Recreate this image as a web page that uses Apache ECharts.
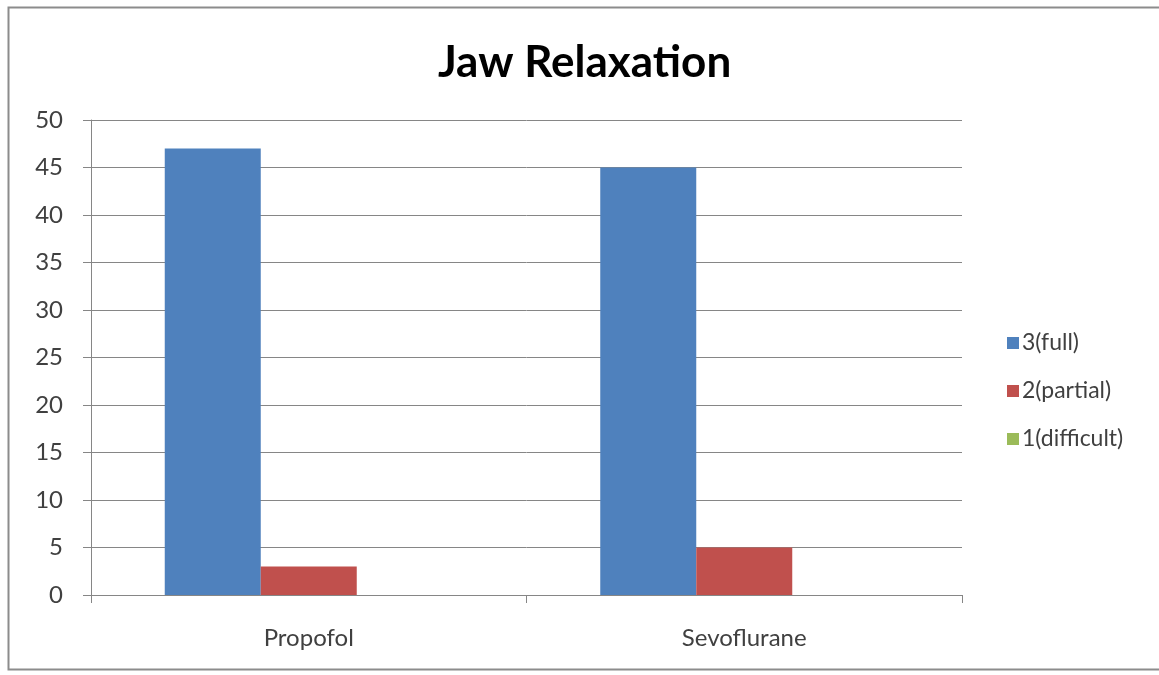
<!DOCTYPE html>
<html>
<head>
<meta charset="utf-8">
<title>Jaw Relaxation</title>
<script src="https://cdn.jsdelivr.net/npm/echarts@6/dist/echarts.min.js"></script>
<style>
  html, body { margin: 0; padding: 0; background: #ffffff; }
  #chart { width: 1159px; height: 675px; }
</style>
</head>
<body>
<div id="chart"></div>
<script>
// Jaw relaxation scores by anaesthetic agent
const categories = ['Propofol', 'Sevoflurane'];
const seriesNames = ['3(full)', '2(partial)', '1(difficult)'];
const fullValues = [47, 45];
const partialValues = [3, 5];
const difficultValues = [0, 0];
const yTicks = { min: 0, max: 50, interval: 5 };

const colors = ['#4F81BD', '#C0504D', '#9BBB59'];
const textFont = 'Lato, "Open Sans", sans-serif';

const chart = echarts.init(document.getElementById('chart'), null, { renderer: 'canvas' });

function barSeries(name, data, color) {
  return {
    name: name,
    type: 'bar',
    data: data,
    barWidth: 96,
    barGap: '0%',
    itemStyle: { color: color },
    emphasis: { disabled: true }
  };
}

chart.setOption({
  animation: false,
  backgroundColor: '#ffffff',
  graphic: [{
    type: 'rect',
    shape: { x: 8.5, y: 7.5, width: 1170, height: 662 },
    style: { fill: 'none', stroke: '#8c8c8c', lineWidth: 2 },
    silent: true,
    z: -1
  }],
  title: {
    text: 'Jaw Relaxation',
    left: 433,
    top: 36,
    textStyle: {
      fontFamily: textFont,
      fontWeight: 'bold',
      fontSize: 44,
      color: '#000000'
    }
  },
  legend: {
    orient: 'vertical',
    left: 1002,
    top: 326,
    itemWidth: 12,
    itemHeight: 12,
    itemGap: 24,
    icon: 'rect',
    data: seriesNames,
    textStyle: { fontFamily: textFont, fontSize: 23, lineHeight: 24, color: '#404040', padding: [0, 0, 0, -2] }
  },
  grid: { left: 91, right: 197, top: 120, bottom: 80 },
  xAxis: {
    type: 'category',
    data: categories,
    axisLine: { lineStyle: { color: '#868686', width: 1 } },
    axisTick: { show: true, length: 8, lineStyle: { color: '#868686' } },
    axisLabel: { margin: 31, fontFamily: textFont, fontSize: 24, color: '#404040' },
    splitLine: { show: false }
  },
  yAxis: {
    type: 'value',
    min: yTicks.min,
    max: yTicks.max,
    interval: yTicks.interval,
    axisLine: { show: true, lineStyle: { color: '#868686', width: 1 } },
    axisTick: { show: true, length: 8, lineStyle: { color: '#868686' } },
    axisLabel: { margin: 28, fontFamily: textFont, fontSize: 24, color: '#404040' },
    splitLine: { show: true, lineStyle: { color: '#868686', width: 1 } }
  },
  series: [
    barSeries(seriesNames[0], fullValues, colors[0]),
    barSeries(seriesNames[1], partialValues, colors[1]),
    barSeries(seriesNames[2], difficultValues, colors[2])
  ]
});
</script>
</body>
</html>
